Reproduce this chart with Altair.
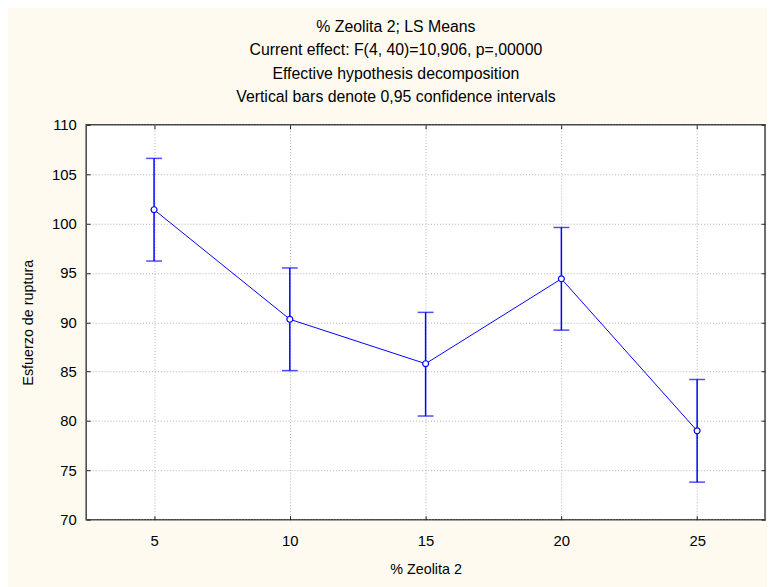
import altair as alt
import pandas as pd

# Data
zeolita = [5, 10, 15, 20, 25]
means = [101.4, 90.3, 85.8, 94.4, 79.0]
lower = [96.2, 85.1, 80.5, 89.2, 73.8]
upper = [106.6, 95.5, 91.0, 99.6, 84.2]

title_lines = [
    "% Zeolita 2; LS Means",
    "Current effect: F(4, 40)=10,906, p=,00000",
    "Effective hypothesis decomposition",
    "Vertical bars denote 0,95 confidence intervals",
]
x_ticks = [5, 10, 15, 20, 25]
y_ticks = [70, 75, 80, 85, 90, 95, 100, 105, 110]

df = pd.DataFrame({"x": zeolita, "mean": means, "lower": lower, "upper": upper})

FONT = "Liberation Sans"
BLUE = "#0000FF"
xscale = alt.Scale(domain=[2.5, 27.5], nice=False, zero=False)
yscale = alt.Scale(domain=[70, 110], nice=False, zero=False)

base = alt.Chart(df)

main_x_axis = alt.Axis(
    orient="bottom", values=x_ticks, grid=True, gridColor="#b0b0b0", gridDash=[1, 2],
    gridWidth=1, ticks=False, tickSize=0, domain=False, labelFont=FONT, labelFontSize=15,
    labelColor="black", labelPadding=14, title="% Zeolita 2", titleFont=FONT,
    titleFontSize=14.5, titleFontWeight="normal", titleColor="black", titlePadding=14,
)
main_y_axis = alt.Axis(
    orient="left", values=y_ticks, grid=True, gridColor="#b0b0b0", gridDash=[1, 2],
    gridWidth=1, ticks=False, tickSize=0, domain=False, labelFont=FONT, labelFontSize=15,
    labelColor="black", labelPadding=10, title="Esfuerzo de ruptura", titleFont=FONT,
    titleFontSize=14.5, titleFontWeight="normal", titleColor="black", titlePadding=16,
)


def tick_axis(orient, values):
    return alt.Axis(
        orient=orient, values=values, offset=-4, tickSize=4, ticks=True, tickColor="#202020",
        tickWidth=1, labels=False, domain=False, grid=False, title=None,
    )


line = base.mark_line(color=BLUE, strokeWidth=1).encode(
    x=alt.X("x:Q", scale=xscale, axis=main_x_axis),
    y=alt.Y("mean:Q", scale=yscale, axis=main_y_axis),
)

rules = base.mark_rule(color=BLUE, strokeWidth=1.5).encode(
    x=alt.X("x:Q", scale=xscale, axis=tick_axis("bottom", x_ticks)),
    y=alt.Y("lower:Q", scale=yscale, axis=tick_axis("left", y_ticks)),
    y2="upper:Q",
)

cap_low = base.mark_tick(color=BLUE, orient="horizontal", size=16, thickness=1.5).encode(
    x=alt.X("x:Q", scale=xscale, axis=tick_axis("top", x_ticks)),
    y=alt.Y("lower:Q", scale=yscale, axis=tick_axis("right", y_ticks)),
)

cap_up = base.mark_tick(color=BLUE, orient="horizontal", size=16, thickness=1.5).encode(
    x=alt.X("x:Q", scale=xscale, axis=None),
    y=alt.Y("upper:Q", scale=yscale, axis=None),
)

points = base.mark_point(
    shape="circle", filled=True, fill="white", stroke=BLUE, strokeWidth=1.2, size=36, opacity=1
).encode(
    x=alt.X("x:Q", scale=xscale, axis=None),
    y=alt.Y("mean:Q", scale=yscale, axis=None),
)

chart = (
    alt.layer(line, rules, cap_low, cap_up, points)
    .resolve_axis(x="independent", y="independent")
    .properties(
        width=686,
        height=399,
        background="#FFFAF0",
        padding={"left": 79, "top": 115, "right": 2, "bottom": 65},
        autosize=alt.AutoSizeParams(type="none"),
        title=alt.TitleParams(
            text=title_lines, font=FONT, fontSize=16, fontWeight="normal", color="black",
            lineHeight=23.7, anchor="middle", dx=-30, offset=13,
        ),
    )
    .configure_view(stroke="#404040", strokeWidth=1.5, fill="white")
)

chart.save("out.html", embed_options={"renderer": "svg", "actions": False})
